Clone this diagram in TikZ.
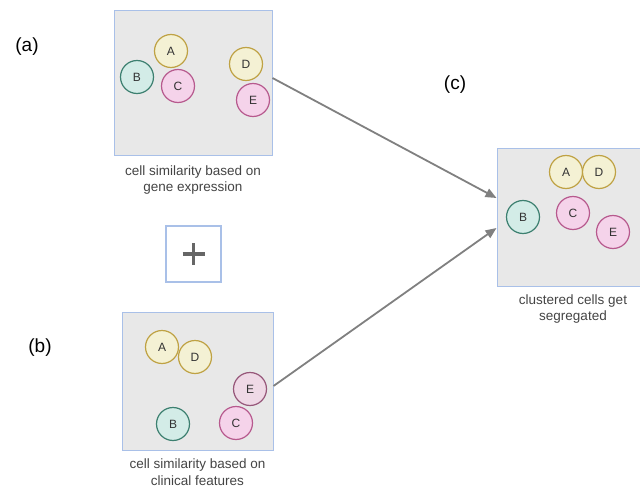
\documentclass[tikz,border=0pt]{standalone}
\usepackage{fontspec}
\setmainfont{Liberation Sans}
\usetikzlibrary{arrows.meta,calc}
\definecolor{panelfill}{HTML}{E8E8E8}
\definecolor{panelline}{HTML}{A9C0E8}
\definecolor{yfill}{HTML}{F4F1D4}
\definecolor{yline}{HTML}{BFA244}
\definecolor{tfill}{HTML}{D3ECE7}
\definecolor{tline}{HTML}{3D8070}
\definecolor{pfill}{HTML}{F5D3EA}
\definecolor{pline}{HTML}{B75A8E}
\definecolor{p2fill}{HTML}{EFD9E6}
\definecolor{p2line}{HTML}{97577A}
\definecolor{arrowgray}{HTML}{808080}
\definecolor{plusgray}{HTML}{666666}
\definecolor{captext}{HTML}{444444}
\tikzset{
  panel/.style={draw=panelline, fill=panelfill, line width=1pt},
  cell/.style={circle, minimum size=33pt, inner sep=0pt, line width=1.2pt, font=\fontsize{12}{12}\selectfont, text=black!80},
  ycell/.style={cell, draw=yline, fill=yfill},
  tcell/.style={cell, draw=tline, fill=tfill},
  pcell/.style={cell, draw=pline, fill=pfill},
  p2cell/.style={cell, draw=p2line, fill=p2fill},
  caption/.style={align=center, inner sep=1pt, font=\fontsize{13.5}{16.5}\selectfont, text=captext},
  tag/.style={font=\fontsize{19}{19}\selectfont},
  conn/.style={draw=arrowgray, line width=1.8pt, -{Triangle[length=11pt,width=9pt]}},
  plusbar/.style={draw=plusgray, line width=3.5pt},
}
\begin{document}
\begin{tikzpicture}[x=1pt,y=-1pt]
\useasboundingbox (0,0) rectangle (640,487);
% panel a
\node[panel, minimum width=158pt, minimum height=144pt, inner sep=0pt] (pa) at (193,83) {};
\node[ycell] (aA) at (171,51) {A};
\node[tcell] (aB) at (137,77) {B};
\node[pcell] (aC) at (178,86) {C};
\node[ycell] (aD) at (246,64) {D};
\node[pcell] (aE) at (253,100) {E};
\node[caption] (capa) at (193,180) {cell similarity based on\\gene expression};
% plus
\node[draw=panelline, line width=1.2pt, minimum width=55pt, minimum height=56pt, inner sep=0pt] (plus) at (193.5,254) {};
\draw[plusbar] ($(plus.center)+(-11,0)$) -- ($(plus.center)+(11,0)$);
\draw[plusbar] ($(plus.center)+(0,-11)$) -- ($(plus.center)+(0,11)$);
% panel b
\node[panel, minimum width=151pt, minimum height=138pt, inner sep=0pt] (pb) at (197.5,381) {};
\node[ycell] (bA) at (162,347) {A};
\node[ycell] (bD) at (195,357) {D};
\node[p2cell] (bE) at (250,389) {E};
\node[tcell] (bB) at (173,424) {B};
\node[pcell] (bC) at (236,423) {C};
\node[caption] (capb) at (197.5,472) {cell similarity based on\\clinical features};
% panel c
\node[panel, minimum width=146pt, minimum height=138pt, inner sep=0pt] (pc) at (570,217) {};
\node[ycell] (cA) at (566,172) {A};
\node[ycell] (cD) at (599,172) {D};
\node[tcell] (cB) at (523,217) {B};
\node[pcell] (cC) at (573,213) {C};
\node[pcell] (cE) at (613,232) {E};
\node[caption] (capc) at (573,309) {clustered cells get\\segregated};
% tags
\node[tag] (ta) at (27,47) {(a)};
\node[tag] (tb) at (40,348) {(b)};
\node[tag] (tc) at (455,85) {(c)};
% connectors
\coordinate (ea) at (pc.west |- 0,198);
\coordinate (eb) at (pc.west |- 0,228);
\draw[conn] (pa.east |- 0,78) -- (ea);
\draw[conn] (pb.east |- 0,386) -- (eb);
\end{tikzpicture}
\end{document}
